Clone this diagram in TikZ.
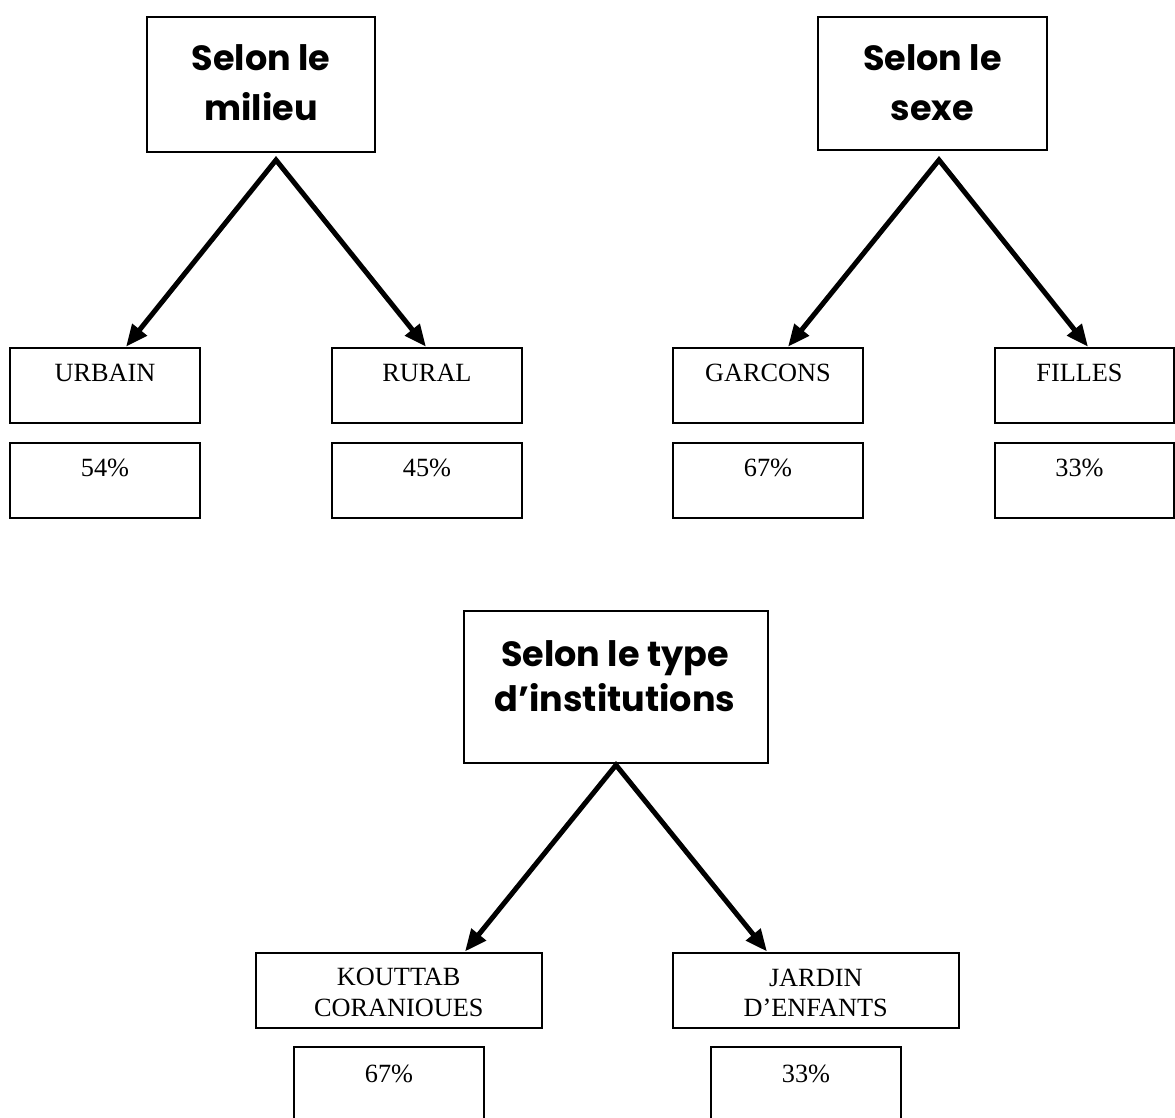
\documentclass[tikz,border=0pt]{standalone}
\usepackage{fontspec}
\setmainfont{Liberation Serif}
\newfontfamily\titlefont{Poppins}
\usetikzlibrary{arrows.meta,calc}
\begin{document}
\begin{tikzpicture}[x=1pt,y=-1pt,
  box/.style={draw=black, line width=2pt, rectangle, inner sep=0pt},
  topbox/.style={box},
  smallbox/.style={box, minimum width=190pt, minimum height=75.5pt},
  widebox/.style={box, minimum width=285.5pt, minimum height=75.5pt},
  titletxt/.style={anchor=base, align=center, inner sep=0pt, font=\titlefont\bfseries\fontsize{35}{50}\selectfont},
  bodytxt/.style={anchor=base, align=center, inner sep=0pt, font=\fontsize{26.3}{30.3}\selectfont},
  arr/.style={line width=5pt, line join=miter, {Triangle[length=22pt,width=18pt]}-{Triangle[length=22pt,width=18pt]}}
]
\fill[white] (0,0) rectangle (1175,1117);
\useasboundingbox (0,0) rectangle (1175,1117);

% ---- Selon le milieu ----
\node[topbox, minimum width=228pt, minimum height=135pt] (milieu) at (261,84) {};
\node[titletxt] (milieut) at (261,120) {Selon le\\milieu};
\node[smallbox] (urbain) at (105,385.5) {};
\node[smallbox] (rural) at (427,385.5) {};
\node[smallbox] (p54) at (105,480.25) {};
\node[smallbox] (p45) at (427,480.25) {};
\node[bodytxt] (urbaint) at ($(urbain.north)+(0,35)$) {URBAIN};
\node[bodytxt] (ruralt) at ($(rural.north)+(0,35)$) {RURAL};
\node[bodytxt] (p54t) at ($(p54.north)+(0,35)$) {54\%};
\node[bodytxt] (p45t) at ($(p45.north)+(0,35)$) {45\%};
\coordinate (a1) at (276,160);
\coordinate (t1l) at ($(urbain.north)+(21,0)$);
\coordinate (t1r) at ($(rural.north)+(-1,0)$);
\draw[arr] (t1l) -- (a1) -- (t1r);

% ---- Selon le sexe ----
\node[topbox, minimum width=229pt, minimum height=133.5pt] (sexe) at (932.5,83.25) {};
\node[titletxt] (sexet) at (932.5,120) {Selon le\\sexe};
\node[smallbox] (garcons) at (768,385.5) {};
\node[smallbox, minimum width=179pt] (filles) at (1084.5,385.5) {};
\node[smallbox] (p67) at (768,480.25) {};
\node[smallbox, minimum width=179pt] (p33) at (1084.5,480.25) {};
\node[bodytxt] (garconst) at ($(garcons.north)+(0,35)$) {GARCONS};
\node[bodytxt] (fillest) at ($(filles.north)+(-5,35)$) {FILLES};
\node[bodytxt] (p67t) at ($(p67.north)+(0,35)$) {67\%};
\node[bodytxt] (p33t) at ($(p33.north)+(-5,35)$) {33\%};
\coordinate (a2) at (939,160);
\coordinate (t2l) at ($(garcons.north)+(20,0)$);
\coordinate (t2r) at ($(filles.north)+(3.5,0)$);
\draw[arr] (t2l) -- (a2) -- (t2r);

% ---- Selon le type d'institutions ----
\node[topbox, minimum width=304pt, minimum height=152pt] (inst) at (616,687) {};
\node[titletxt, font=\titlefont\bfseries\fontsize{35}{45}\selectfont] (instt) at (615,711) {Selon le type\\d’institutions};
\node[widebox] (kouttab) at (398.75,990.25) {};
\node[widebox] (jardin) at (815.75,990.25) {};
\node[smallbox] (p67b) at (389,1084.75) {};
\node[smallbox] (p33b) at (806,1084.75) {};
\node[bodytxt] (kouttabt) at ($(kouttab.north)+(0,64.5)$) {KOUTTAB\\CORANIOUES};
\node[bodytxt] (jardint) at ($(jardin.north)+(0,65)$) {JARDIN\\D’ENFANTS};
\node[bodytxt] (p67bt) at ($(p67b.north)+(0,36)$) {67\%};
\node[bodytxt] (p33bt) at ($(p33b.north)+(0,36)$) {33\%};
\coordinate (a3) at (616,765);
\coordinate (t3l) at ($(kouttab.north)+(66.25,0)$);
\coordinate (t3r) at ($(jardin.north)+(-48.75,0)$);
\draw[arr] (t3l) -- (a3) -- (t3r);
\end{tikzpicture}
\end{document}
